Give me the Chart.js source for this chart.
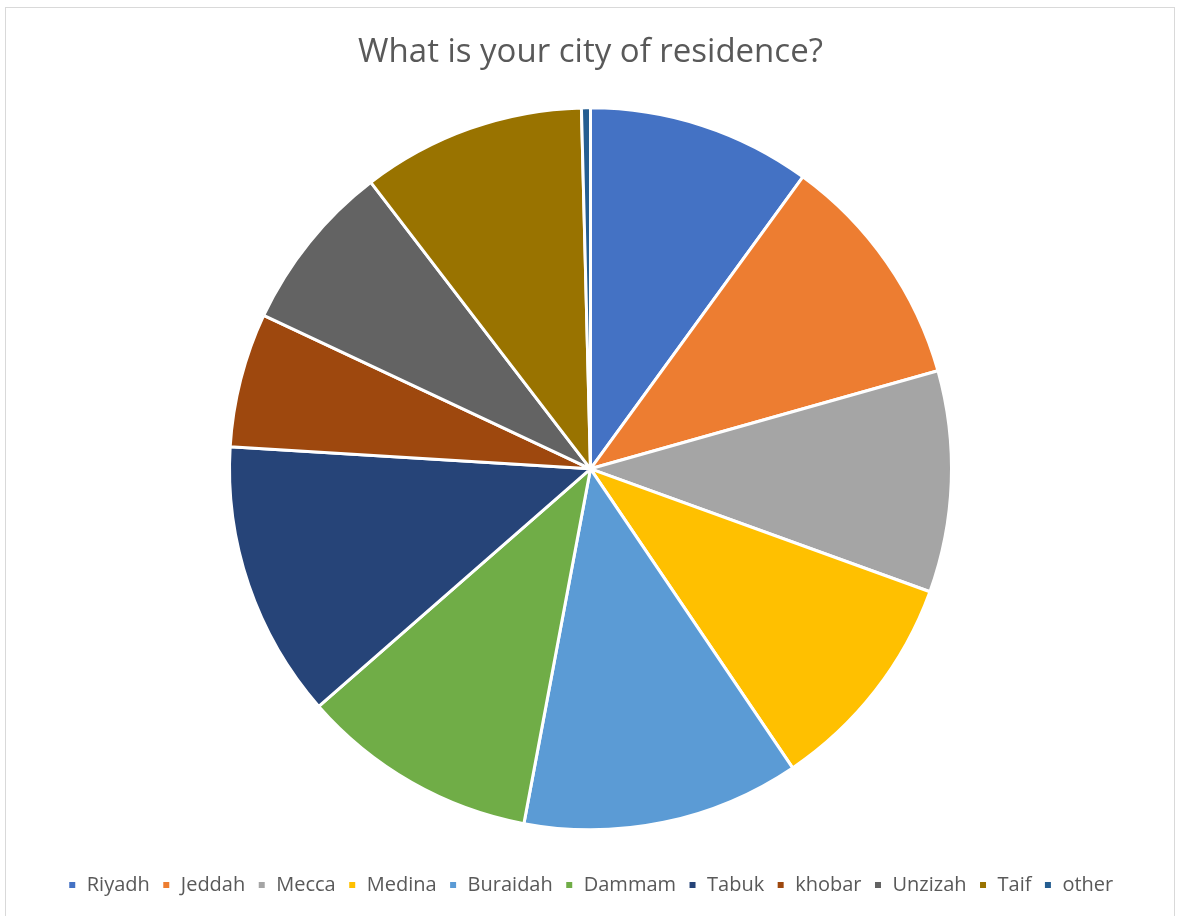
<!DOCTYPE html>
<html lang="en">
<head>
  <meta charset="UTF-8">
  <title>City of residence</title>
  <script src="https://cdn.jsdelivr.net/npm/chart.js"></script>
  <style>
    body {
      margin: 0;
      background: #fff;
      overflow: hidden;
    }
    /* light frame like the office chart area */
    .frame {
      position: absolute;
      left: 5px;
      top: 7px;
      width: 1170px;
      height: 960px;
      border: 1px solid #d9d9d9;
      box-sizing: border-box;
    }
    .wrap {
      position: absolute;
      left: 0;
      top: 0;
      width: 1181px;
      height: 916px;
    }
  </style>
</head>
<body>
  <div class="frame"></div>
  <div class="wrap"><canvas id="pieChart"></canvas></div>

  <script>
    const cities = ['Riyadh', 'Jeddah', 'Mecca', 'Medina', 'Buraidah', 'Dammam', 'Tabuk', 'khobar', 'Unzizah', 'Taif', 'other'];
    const shares = [10.0, 10.6, 9.9, 10.0, 12.4, 10.6, 12.4, 6.0, 7.6, 10.0, 0.4];
    const colors = ['#4472C4', '#ED7D31', '#A5A5A5', '#FFC000', '#5B9BD5', '#70AD47', '#264478', '#9E480E', '#636363', '#997300', '#255E91'];

    const ctx = document.getElementById('pieChart').getContext('2d');
    new Chart(ctx, {
      type: 'pie',
      data: {
        labels: cities,
        datasets: [{
          data: shares,
          backgroundColor: colors,
          borderColor: '#fff',
          borderWidth: 3
        }]
      },
      options: {
        responsive: true,
        maintainAspectRatio: false,
        animation: false,
        radius: 361,
        layout: { padding: { top: 0, bottom: 11 } },
        plugins: {
          title: {
            display: true,
            text: 'What is your city of residence?',
            color: '#595959',
            font: { family: 'Open Sans', size: 33, weight: 'normal' },
            padding: { top: 33, bottom: 2 }
          },
          legend: {
            position: 'bottom',
            labels: {
              color: '#595959',
              font: { family: 'Open Sans', size: 20 },
              boxWidth: 9,
              boxHeight: 9,
              padding: 12
            }
          },
          tooltip: { enabled: false }
        }
      }
    });
  </script>
</body>
</html>
